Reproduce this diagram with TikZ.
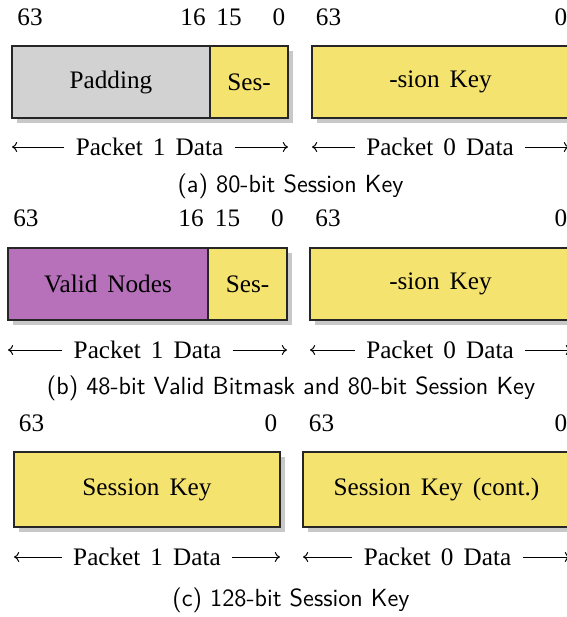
\documentclass[tikz,border=0pt]{standalone}
\usepackage{fontspec}
\setmainfont{Liberation Serif}
\usetikzlibrary{shadows,arrows.meta}
\definecolor{keyyellow}{RGB}{245,227,112}
\definecolor{padgray}{RGB}{210,210,210}
\definecolor{nodepurple}{RGB}{183,113,186}
\definecolor{shadowgray}{RGB}{200,200,200}
\newcommand\myserifsize{\fontsize{12.6}{15}\selectfont}
\newcommand\mywidespace{\spaceskip=0.4em\relax}
\begin{document}
\begin{tikzpicture}[x=0.5pt,y=-0.5pt,
  serif/.style={font=\myserifsize, execute at begin node=\mywidespace},
  field/.style={serif, draw=black!85, line width=0.55pt, rectangle, inner sep=0pt,
    minimum height=36pt,
    drop shadow={shadow xshift=2.3pt, shadow yshift=-2.3pt, fill=shadowgray, opacity=1}},
  bitno/.style={serif, inner sep=0pt},
  span/.style={serif, inner xsep=5.5pt, inner ysep=0pt},
  spanarrow/.style={line width=0.5pt, -{To[length=2.6pt,width=5pt]}},
  caption/.style={font=\sffamily\fontsize{12.4}{15}\selectfont, inner sep=0pt}]
\useasboundingbox (0,0) rectangle (567,617);

% ---------- (a) ----------
\node[bitno] (a63) at (30,17) {63};
\node[bitno] (a16) at (193,17) {16};
\node[bitno] (a15) at (229,17) {15};
\node[bitno] (a0) at (279,17) {0};
\node[bitno] (a63r) at (328.5,17) {63};
\node[bitno] (a0r) at (561,17) {0};
\node[field, fill=padgray, minimum width=99pt] (apad) at (111,82) {Padding};
\node[field, fill=keyyellow, minimum width=39pt] (ases) at (249,82) {Ses-};
\node[field, fill=keyyellow, minimum width=128.5pt] (akey) at (440.5,82) {-sion Key};
\node[span] (ap1) at (149.5,147) {Packet 1 Data};
\coordinate (ap1l) at (12,147);
\coordinate (ap1r) at (288,147);
\draw[spanarrow] (ap1.west) -- (ap1l);
\draw[spanarrow] (ap1.east) -- (ap1r);
\node[span] (ap0) at (440,147) {Packet 0 Data};
\coordinate (ap0l) at (312,147);
\coordinate (ap0r) at (569,147);
\draw[spanarrow] (ap0.west) -- (ap0l);
\draw[spanarrow] (ap0.east) -- (ap0r);
\node[caption] (acap) at (290.5,186) {(a) 80-bit Session Key};

% ---------- (b) ----------
\node[bitno] (b63) at (26,218) {63};
\node[bitno] (b16) at (191,218) {16};
\node[bitno] (b15) at (227.5,218) {15};
\node[bitno] (b0) at (277.5,218) {0};
\node[bitno] (b63r) at (328,218) {63};
\node[bitno] (b0r) at (561,218) {0};
\node[field, fill=nodepurple, minimum width=100pt] (bvn) at (108,284) {Valid Nodes};
\node[field, fill=keyyellow, minimum width=39.5pt] (bses) at (247.5,284) {Ses-};
\node[field, fill=keyyellow, minimum width=130.5pt] (bkey) at (440.5,284) {-sion Key};
\node[span] (bp1) at (147.5,350) {Packet 1 Data};
\coordinate (bp1l) at (8,350);
\coordinate (bp1r) at (287,350);
\draw[spanarrow] (bp1.west) -- (bp1l);
\draw[spanarrow] (bp1.east) -- (bp1r);
\node[span] (bp0) at (440,350) {Packet 0 Data};
\coordinate (bp0l) at (310,350);
\coordinate (bp0r) at (571,350);
\draw[spanarrow] (bp0.west) -- (bp0l);
\draw[spanarrow] (bp0.east) -- (bp0r);
\node[caption] (bcap) at (291,388) {(b) 48-bit Valid Bitmask and 80-bit Session Key};

% ---------- (c) ----------
\node[bitno] (c63) at (31.5,423) {63};
\node[bitno] (c0) at (271,423) {0};
\node[bitno] (c63r) at (321.5,423) {63};
\node[bitno] (c0r) at (561,423) {0};
\node[field, fill=keyyellow, minimum width=133pt, minimum height=37.5pt] (csk) at (147,489.5) {Session Key};
\node[field, fill=keyyellow, minimum width=133.5pt, minimum height=37.5pt] (cskc) at (436.5,489.5) {Session Key (cont.)};
\node[span] (cp1) at (147,557) {Packet 1 Data};
\coordinate (cp1l) at (14,557);
\coordinate (cp1r) at (280,557);
\draw[spanarrow] (cp1.west) -- (cp1l);
\draw[spanarrow] (cp1.east) -- (cp1r);
\node[span] (cp0) at (437.5,557) {Packet 0 Data};
\coordinate (cp0l) at (303,557);
\coordinate (cp0r) at (570,557);
\draw[spanarrow] (cp0.west) -- (cp0l);
\draw[spanarrow] (cp0.east) -- (cp0r);
\node[caption] (ccap) at (291,600) {(c) 128-bit Session Key};
\end{tikzpicture}
\end{document}
